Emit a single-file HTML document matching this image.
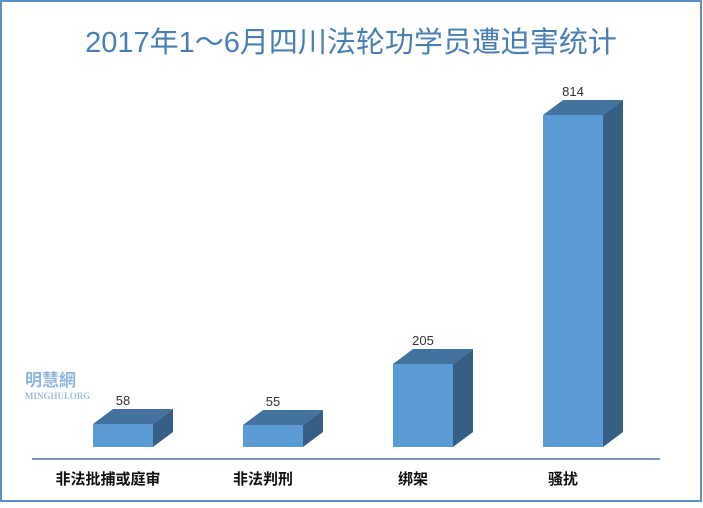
<!DOCTYPE html>
<html><head><meta charset="utf-8"><style>
body{margin:0;width:703px;height:503px;overflow:hidden;background:#fff}
</style></head><body>
<svg width="703" height="503" xmlns="http://www.w3.org/2000/svg" font-family="Liberation Sans, Noto Sans CJK SC, sans-serif">
<rect x="1" y="1" width="700" height="500" fill="#fff" stroke="#5b8fc7" stroke-width="2"/>
<text x="351" y="52" text-anchor="middle" font-size="29" fill="#4a7fb5">2017年1～6月四川法轮功学员遭迫害统计</text>
<line x1="32" y1="459" x2="660" y2="459" stroke="#4a74b0" stroke-width="1.5"/>
<g>
<polygon points="93,424 113,409 173,409 153,424" fill="#44729f"/>
<polygon points="153,424 173,409 173,432 153,447" fill="#375f85"/>
<rect x="93" y="424" width="60" height="23" fill="#5b9bd5"/>
<polygon points="243,425 263,410 323,410 303,425" fill="#44729f"/>
<polygon points="303,425 323,410 323,432 303,447" fill="#375f85"/>
<rect x="243" y="425" width="60" height="22" fill="#5b9bd5"/>
<polygon points="393,364 413,349 473,349 453,364" fill="#44729f"/>
<polygon points="453,364 473,349 473,432 453,447" fill="#375f85"/>
<rect x="393" y="364" width="60" height="83" fill="#5b9bd5"/>
<polygon points="543,115 563,100 623,100 603,115" fill="#44729f"/>
<polygon points="603,115 623,100 623,432 603,447" fill="#375f85"/>
<rect x="543" y="115" width="60" height="332" fill="#5b9bd5"/>
</g>
<g font-size="13" fill="#333" text-anchor="middle">
<text x="123" y="405">58</text>
<text x="273" y="406">55</text>
<text x="423" y="345">205</text>
<text x="573" y="96">814</text>
</g>
<g font-size="15" font-weight="bold" fill="#111" text-anchor="middle">
<text x="108" y="484">非法批捕或庭审</text>
<text x="263" y="484">非法判刑</text>
<text x="413" y="484">绑架</text>
<text x="563" y="484">骚扰</text>
</g>
<text x="25" y="386" font-size="17" font-weight="bold" fill="#8fb6de">明慧網</text>
<text x="25" y="399" font-size="9" font-family="Liberation Serif, serif" font-weight="bold" fill="#9cbfe3">MINGHUI.ORG</text>
</svg>
</body></html>
